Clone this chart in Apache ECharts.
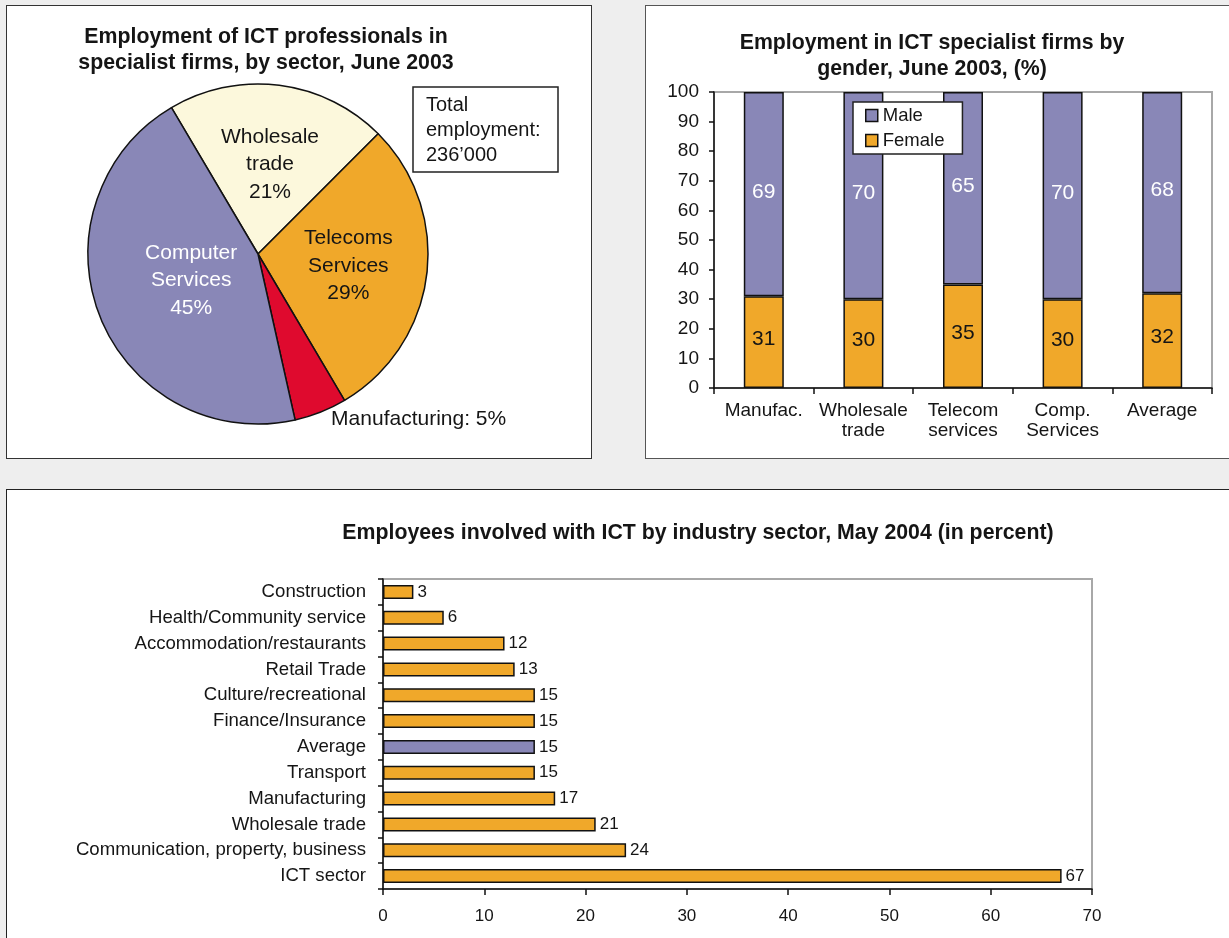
<!DOCTYPE html>
<html><head><meta charset="utf-8">
<script src="https://cdn.jsdelivr.net/npm/echarts@6/dist/echarts.min.js"></script>
<style>
html,body{margin:0;padding:0;background:#eeeeee;}
.panel{position:absolute;background:#fff;border:1.5px solid #333;box-sizing:border-box;}
#c{position:absolute;left:0;top:0;width:1229px;height:938px;}
</style>
</head><body>
<div class="panel" style="left:6px;top:5px;width:586px;height:454px;"></div>
<div class="panel" style="left:645px;top:5px;width:600px;height:454px;border-color:#555;"></div>
<div class="panel" style="left:6px;top:489px;width:1240px;height:500px;border-color:#222;"></div>
<div id="c"></div>
<script>
// ---- data ----
const pieNames = ['Wholesale trade', 'Telecoms Services', 'Manufacturing', 'Computer Services'];
const pieValues = [21, 29, 5, 45];
const totalEmployment = '236’000';

const genderCats = ['Manufac.', 'Wholesale\ntrade', 'Telecom\nservices', 'Comp.\nServices', 'Average'];
const maleValues = [69, 70, 65, 70, 68];
const femaleValues = [31, 30, 35, 30, 32];

const sectorCats = ['Construction', 'Health/Community service', 'Accommodation/restaurants', 'Retail Trade',
  'Culture/recreational', 'Finance/Insurance', 'Average', 'Transport', 'Manufacturing', 'Wholesale trade',
  'Communication, property, business', 'ICT sector'];
const sectorValues = [3, 6, 12, 13, 15, 15, 15, 15, 17, 21, 24, 67];

const titles = [
  'Employment of ICT professionals in\nspecialist firms, by sector, June 2003',
  'Employment in ICT specialist firms by\ngender, June 2003, (%)',
  'Employees involved with ICT by industry sector, May 2004 (in percent)'
];

// ---- style ----
const FF = "'Liberation Sans', Arial, Helvetica, sans-serif";
const PURPLE = '#8987b7', ORANGE = '#f0a82a', CREAM = '#fcf8dc', RED = '#df0a2e', INK = '#151515';
const pieColors = [CREAM, ORANGE, RED, PURPLE];
const pieLabelShift = [[1, -2], [3, 1], [-30, -7], [15, -6]];

const chart = echarts.init(document.getElementById('c'), null, {renderer: 'canvas'});
const titleStyle = {fontFamily: FF, fontSize: 21.3, fontWeight: 'bold', color: INK, lineHeight: 26};

const option = {
  animation: false,
  backgroundColor: 'transparent',
  textStyle: {fontFamily: FF},
  title: [
    {text: titles[0], left: 266, top: 24, textAlign: 'center', textStyle: titleStyle, padding: 0},
    {text: titles[1], left: 932, top: 30, textAlign: 'center', textStyle: titleStyle, padding: 0},
    {text: titles[2], left: 698, top: 520, textAlign: 'center', textStyle: titleStyle, padding: 0}
  ],
  legend: {
    data: ['Male', 'Female'],
    left: 853, top: 102, orient: 'vertical',
    padding: [3, 18, 3, 12], itemGap: 4, itemWidth: 12, itemHeight: 12, icon: 'rect',
    backgroundColor: '#fff', borderColor: '#222', borderWidth: 1.5, borderRadius: 0,
    textStyle: {fontFamily: FF, fontSize: 18.5, lineHeight: 21, color: INK},
    itemStyle: {borderColor: '#111', borderWidth: 1.5},
    selectedMode: false
  },
  graphic: [
    {type: 'rect', shape: {x: 413, y: 87, width: 145, height: 85},
     style: {fill: '#fff', stroke: '#222', lineWidth: 1.5}, z: 10},
    {type: 'text', x: 426, y: 93, z: 11,
     style: {text: 'Total\nemployment:\n' + totalEmployment, fill: INK, font: '20px ' + FF, lineHeight: 25}}
  ],
  grid: [
    {left: 714, top: 92, width: 498, height: 296, show: true, borderColor: '#a8a8a8', borderWidth: 2, backgroundColor: 'transparent'},
    {left: 383, top: 579, width: 709, height: 310, show: true, borderColor: '#a8a8a8', borderWidth: 2, backgroundColor: 'transparent'}
  ],
  xAxis: [
    {type: 'category', gridIndex: 0, data: genderCats,
     axisLine: {lineStyle: {color: '#111', width: 1.5}},
     axisTick: {show: true, alignWithLabel: false, length: 6, lineStyle: {color: '#111', width: 1.5}},
     axisLabel: {fontFamily: FF, fontSize: 19, lineHeight: 20, color: INK, margin: 13, interval: 0}},
    {type: 'value', gridIndex: 1, min: 0, max: 70, interval: 10,
     axisLine: {show: true, lineStyle: {color: '#111', width: 1.5}},
     axisTick: {show: true, length: 6, lineStyle: {color: '#111', width: 1.5}},
     splitLine: {show: false},
     axisLabel: {fontFamily: FF, fontSize: 17, color: INK, margin: 19}}
  ],
  yAxis: [
    {type: 'value', gridIndex: 0, min: 0, max: 100, interval: 10,
     axisLine: {show: true, lineStyle: {color: '#111', width: 1.5}},
     axisTick: {show: true, length: 5, lineStyle: {color: '#111', width: 1.5}},
     splitLine: {show: false},
     axisLabel: {fontFamily: FF, fontSize: 19, color: INK, margin: 15}},
    {type: 'category', gridIndex: 1, data: sectorCats, inverse: true,
     axisLine: {show: true, lineStyle: {color: '#111', width: 1.5}},
     axisTick: {show: true, alignWithLabel: false, length: 5, lineStyle: {color: '#111', width: 1.5}},
     axisLabel: {fontFamily: FF, fontSize: 18.6, color: INK, margin: 17, interval: 0}}
  ],
  series: [
    {type: 'pie', center: [258, 254], radius: 170, startAngle: 120.6, clockwise: true,
     avoidLabelOverlap: false, silent: true,
     itemStyle: {borderColor: '#111', borderWidth: 1.5},
     label: {show: true, position: 'inside', fontFamily: FF, fontSize: 21, lineHeight: 27.5, color: INK,
       formatter: p => p.name === 'Manufacturing' ? p.name + ': ' + p.value + '%'
                                                  : p.name.replace(' ', '\n') + '\n' + p.value + '%'},
     labelLine: {show: false},
     labelLayout: p => ({dx: pieLabelShift[p.dataIndex][0], dy: pieLabelShift[p.dataIndex][1]}),
     emphasis: {disabled: true},
     data: pieNames.map((n, i) => ({
       name: n, value: pieValues[i], itemStyle: {color: pieColors[i]},
       label: n === 'Manufacturing' ? {position: 'outside'} : (n === 'Computer Services' ? {color: '#fff'} : {})
     }))},
    {name: 'Female', type: 'bar', stack: 'g', xAxisIndex: 0, yAxisIndex: 0, data: femaleValues, barWidth: 40,
     itemStyle: {color: ORANGE, borderColor: '#111', borderWidth: 1.5},
     label: {show: true, position: 'inside', fontFamily: FF, fontSize: 21, color: INK, offset: [0, -3]},
     emphasis: {disabled: true}, silent: true},
    {name: 'Male', type: 'bar', stack: 'g', xAxisIndex: 0, yAxisIndex: 0, data: maleValues, barWidth: 40,
     itemStyle: {color: PURPLE, borderColor: '#111', borderWidth: 1.5},
     label: {show: true, position: 'inside', fontFamily: FF, fontSize: 21, color: '#fff', offset: [0, -2]},
     emphasis: {disabled: true}, silent: true},
    {name: 'Sectors', type: 'bar', xAxisIndex: 1, yAxisIndex: 1, data: sectorValues, barWidth: 14,
     itemStyle: {color: p => p.name === 'Average' ? PURPLE : ORANGE, borderColor: '#111', borderWidth: 1.5},
     label: {show: true, position: 'right', distance: 4, fontFamily: FF, fontSize: 17, color: INK},
     emphasis: {disabled: true}, silent: true}
  ]
};
chart.setOption(option);
</script>
</body></html>
